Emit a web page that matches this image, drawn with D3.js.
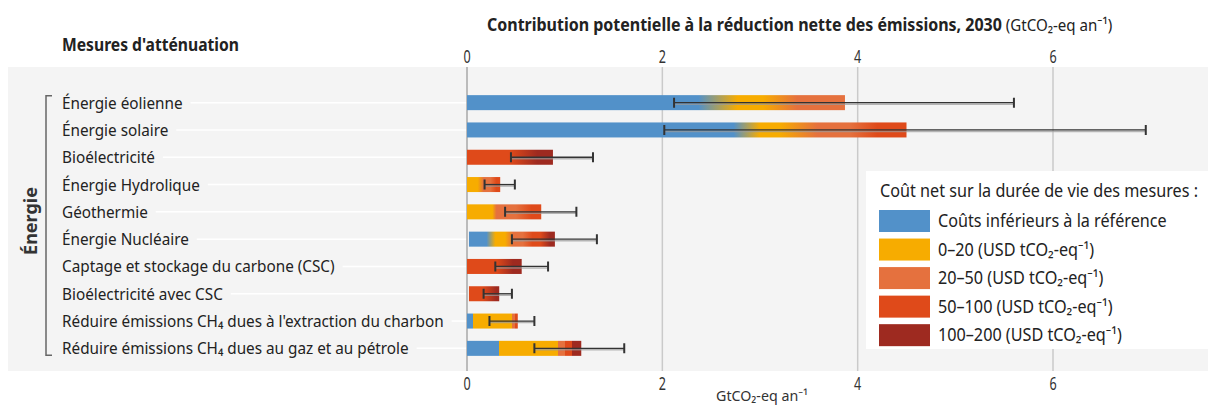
<!DOCTYPE html>
<html>
<head>
<meta charset="utf-8">
<script src="https://cdn.jsdelivr.net/npm/d3@7"></script>
<style>
  body { margin: 0; background: #fff; }
  text { font-family: "Noto Sans", sans-serif; fill: #222; }
</style>
</head>
<body>
<svg id="chart" width="1208" height="405"></svg>
<script>
// ---- data ----
const measures = [
  "Énergie éolienne",
  "Énergie solaire",
  "Bioélectricité",
  "Énergie Hydrolique",
  "Géothermie",
  "Énergie Nucléaire",
  "Captage et stockage du carbone (CSC)",
  "Bioélectricité avec CSC",
  "Réduire émissions CH₄ dues à l'extraction du charbon",
  "Réduire émissions CH₄ dues au gaz et au pétrole"
]
const costCats = [
  "Coûts inférieurs à la référence",
  "0–20 (USD tCO₂-eq⁻¹)",
  "20–50 (USD tCO₂-eq⁻¹)",
  "50–100 (USD tCO₂-eq⁻¹)",
  "100–200 (USD tCO₂-eq⁻¹)"
]
const costColors = ["#5291c9", "#f7ac00", "#e5713e", "#df4a1a", "#9e2a20"]

// [value, cost category] pairs along each bar; equal values = hard edge
const costStops = [
  [[0, 0], [2.37, 0], [2.77, 1], [3.03, 1], [3.38, 2], [3.87, 2]],
  [[0, 0], [2.73, 0], [3.0, 1], [3.2, 1], [3.59, 2], [3.92, 2], [4.2, 3], [4.5, 3]],
  [[0, 3], [0.44, 3], [0.72, 4], [0.88, 4]],
  [[0, 1], [0.11, 1], [0.17, 2], [0.24, 2], [0.3, 3], [0.34, 3]],
  [[0, 1], [0.26, 1], [0.3, 2], [0.5, 2], [0.66, 3], [0.76, 3]],
  [[0.02, 0], [0.2, 0], [0.29, 1], [0.39, 1], [0.47, 2], [0.57, 2], [0.67, 3], [0.75, 3], [0.85, 4], [0.9, 4]],
  [[0, 3], [0.3, 3], [0.47, 4], [0.56, 4]],
  [[0.02, 3], [0.16, 3], [0.3, 4], [0.33, 4]],
  [[0, 0], [0.06, 0], [0.06, 1], [0.46, 1], [0.46, 2], [0.49, 2], [0.49, 3], [0.52, 3]],
  [[0, 0], [0.33, 0], [0.33, 1], [0.93, 1], [0.93, 2], [1.0, 2], [1.0, 3], [1.07, 3], [1.07, 4], [1.17, 4]]
]
const errLow = [2.12, 2.02, 0.45, 0.18, 0.39, 0.46, 0.29, 0.17, 0.23, 0.69]
const errHigh = [5.6, 6.95, 1.29, 0.49, 1.12, 1.33, 0.83, 0.46, 0.69, 1.61]
const xTicks = [0, 2, 4, 6]

// ---- setup ----
const svg = d3.select("#chart")
const x = d3.scaleLinear().domain([0, 6]).range([467, 1053])
const y = d3.scaleBand().domain(measures).range([89, 362])
    .paddingInner(0.45).paddingOuter(0.225)
const yc = d => y(d) + y.bandwidth() / 2

const panel = {x: 8, y: 67, w: 1200, h: 304}
const sx = 0.9  // narrow the font to match the condensed face

// text helper: squeezed horizontally around its anchor
function label(parent, tx, ty, str, opts = {}) {
    const g = parent.append("g")
        .attr("transform", `translate(${tx},${ty}) scale(${opts.scale || sx},1)`)
    const t = g.append("text")
        .attr("font-size", opts.size || 17)
        .attr("font-weight", opts.weight || "normal")
        .attr("text-anchor", opts.anchor || "start")
        .text(str)
    if (opts.fill) t.style("fill", opts.fill)
    return t
}

svg.append("rect")
    .attr("x", panel.x).attr("y", panel.y)
    .attr("width", panel.w).attr("height", panel.h)
    .attr("fill", "#f4f4f4")

// gridlines
svg.append("g").selectAll("line")
    .data(xTicks.filter(d => d > 0))
    .join("line")
    .attr("x1", d => x(d)).attr("x2", d => x(d))
    .attr("y1", panel.y).attr("y2", panel.y + panel.h)
    .attr("stroke", "#cacaca").attr("stroke-width", 1.5)

// row labels + white leader lines
const rowsG = svg.append("g")
measures.forEach((m, i) => {
    const t = label(rowsG, 62, yc(m) + 6, m, {size: 17})
    const w = t.node().getComputedTextLength() * sx
    rowsG.append("line")
        .attr("x1", 62 + w + 8).attr("x2", x(0))
        .attr("y1", yc(m)).attr("y2", yc(m))
        .attr("stroke", "#fff").attr("stroke-width", 1.5)
})

// zero axis
svg.append("line")
    .attr("x1", x(0)).attr("x2", x(0))
    .attr("y1", panel.y).attr("y2", panel.y + panel.h)
    .attr("stroke", "#a8a8a8").attr("stroke-width", 1.5)

// gradients for each bar
const defs = svg.append("defs")
costStops.forEach((stops, i) => {
    const x1 = x(stops[0][0]), x2 = x(stops[stops.length - 1][0])
    const grad = defs.append("linearGradient")
        .attr("id", "grad" + i)
        .attr("gradientUnits", "userSpaceOnUse")
        .attr("x1", x1).attr("x2", x2).attr("y1", 0).attr("y2", 0)
    grad.selectAll("stop")
        .data(stops)
        .join("stop")
        .attr("offset", d => (x(d[0]) - x1) / (x2 - x1))
        .attr("stop-color", d => costColors[d[1]])
})

// bars
svg.append("g").selectAll("rect")
    .data(measures)
    .join("rect")
    .attr("x", (d, i) => x(costStops[i][0][0]))
    .attr("y", d => y(d))
    .attr("width", (d, i) => x(costStops[i][costStops[i].length - 1][0]) - x(costStops[i][0][0]))
    .attr("height", y.bandwidth())
    .attr("fill", (d, i) => `url(#grad${i})`)

// error bars
const err = svg.append("g")
err.selectAll("line.shadow")
    .data(measures)
    .join("line").attr("class", "shadow")
    .attr("x1", (d, i) => x(errLow[i])).attr("x2", (d, i) => x(errHigh[i]))
    .attr("y1", d => yc(d) + 1.5).attr("y2", d => yc(d) + 1.5)
    .attr("stroke", "#9a9a9a").attr("stroke-width", 1.5).attr("opacity", 0.7)
err.selectAll("line.main")
    .data(measures)
    .join("line").attr("class", "main")
    .attr("x1", (d, i) => x(errLow[i])).attr("x2", (d, i) => x(errHigh[i]))
    .attr("y1", d => yc(d)).attr("y2", d => yc(d))
    .attr("stroke", "#333").attr("stroke-width", 1.3)
err.selectAll("path.caps")
    .data(measures)
    .join("path").attr("class", "caps")
    .attr("d", (d, i) => `M${x(errLow[i])},${yc(d) - 5}V${yc(d) + 5}M${x(errHigh[i])},${yc(d) - 5}V${yc(d) + 5}`)
    .attr("stroke", "#333").attr("stroke-width", 2).attr("fill", "none")

// tick labels, top and bottom
xTicks.forEach(t => {
    label(svg, x(t), 63, String(t), {size: 18, anchor: "middle", scale: 0.7, fill: "#333"})
    label(svg, x(t), 390, String(t), {size: 18, anchor: "middle", scale: 0.7, fill: "#333"})
})

// titles
const titleG = svg.append("g").attr("transform", `translate(487,31) scale(0.888,1)`)
const title = titleG.append("text").attr("font-size", 18)
title.append("tspan").attr("font-weight", "bold").text("Contribution potentielle à la réduction nette des émissions, 2030")
title.append("tspan").attr("font-size", 17).text(" (GtCO₂-eq an⁻¹)")

label(svg, 62, 51, "Mesures d'atténuation", {size: 18, weight: "bold", scale: 0.87})
label(svg, 762, 401, "GtCO₂-eq an⁻¹", {size: 15, anchor: "middle", scale: 0.95, fill: "#333"})

// group bracket
svg.append("path")
    .attr("d", `M52,${yc(measures[0]) - 7}H46V${yc(measures[measures.length - 1]) + 7}H52`)
    .attr("stroke", "#666").attr("stroke-width", 1.5).attr("fill", "none")
svg.append("g")
    .attr("transform", `translate(37,221) rotate(-90)`)
    .append("text")
    .attr("font-size", 18).attr("font-weight", "bold")
    .attr("text-anchor", "middle")
    .style("fill", "#333")
    .text("Énergie")

// legend
const lg = svg.append("g")
lg.append("rect")
    .attr("x", 866).attr("y", 171).attr("width", 342).attr("height", 178)
    .attr("fill", "#fff")
label(lg, 880, 197, "Coût net sur la durée de vie des mesures :", {size: 18})
const ly = d3.scaleBand().domain(costCats).range([210, 347]).paddingInner(0.2)
costCats.forEach((c, i) => {
    lg.append("rect")
        .attr("x", 879).attr("y", ly(c))
        .attr("width", 51).attr("height", 22)
        .attr("fill", costColors[i])
    label(lg, 938, ly(c) + 17, c, {size: 18})
})
</script>
</body>
</html>
